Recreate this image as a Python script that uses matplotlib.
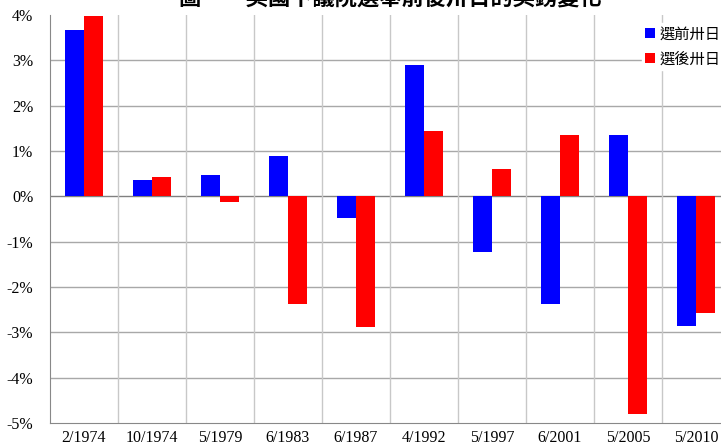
import matplotlib.pyplot as plt
import numpy as np

# UK general elections, change in currency 30 days before / after
elections = ['2/1974', '10/1974', '5/1979', '6/1983', '6/1987',
             '4/1992', '5/1997', '6/2001', '5/2005', '5/2010']
before = [3.66, 0.36, 0.46, 0.90, -0.47, 2.90, -1.22, -2.37, 1.35, -2.85]
after = [3.98, 0.42, -0.12, -2.37, -2.88, 1.44, 0.60, 1.36, -4.80, -2.57]
labels = ['選前卅日', '選後卅日']
title = '圖一　英國下議院選舉前後卅日的英鎊變化'

plt.rcParams['font.family'] = ['Liberation Serif', 'Noto Sans CJK TC']

W, H = 721, 448
fig = plt.figure(figsize=(W / 100, H / 100), dpi=100)
# plot area runs past the right edge of the picture, as in the reference
ax = fig.add_axes([50 / W, (H - 423) / H, 680 / W, 408 / H])

x = np.arange(len(elections))
bw = 0.28
ax.bar(x - bw / 2, before, bw, color='#0000ff', label=labels[0], zorder=3)
ax.bar(x + bw / 2, after, bw, color='#ff0000', label=labels[1], zorder=3)

ax.set_xlim(-0.5, len(elections) - 0.5)
ax.set_ylim(-5, 4)
ax.set_yticks(np.arange(-5, 5))
ax.set_yticklabels([f'{v}%' for v in range(-5, 5)], fontsize=11.5)
ax.set_xticks(x)
ax.set_xticklabels(elections, fontsize=11.5)
ax.tick_params(length=0)
ax.tick_params(axis='x', pad=5)
ax.tick_params(axis='y', pad=12)

for v in range(-4, 4):
    ax.axhline(v, color='#a8a8a8' if v else '#808080', lw=1, zorder=1)
for b in np.arange(0.5, len(elections) - 0.5):
    ax.axvline(b, color='#c8c8c8', lw=1, zorder=1)

for s in ['top', 'right']:
    ax.spines[s].set_visible(False)
for s in ['left', 'bottom']:
    ax.spines[s].set_color('#888888')

leg = ax.legend(loc='upper left', bbox_to_anchor=(0.859, 1.0), frameon=True,
                fancybox=False, edgecolor='white', framealpha=1,
                prop={'family': 'Noto Sans CJK TC', 'size': 11},
                handlelength=0.65, handleheight=0.65, handletextpad=0.3,
                labelspacing=0.5, borderpad=0.2)

fig.text(390 / W, 1 + 2 / H, title, ha='center', va='center',
         fontsize=16, fontweight='bold', family='Noto Sans CJK TC')

fig.savefig('out.png', dpi=100)
